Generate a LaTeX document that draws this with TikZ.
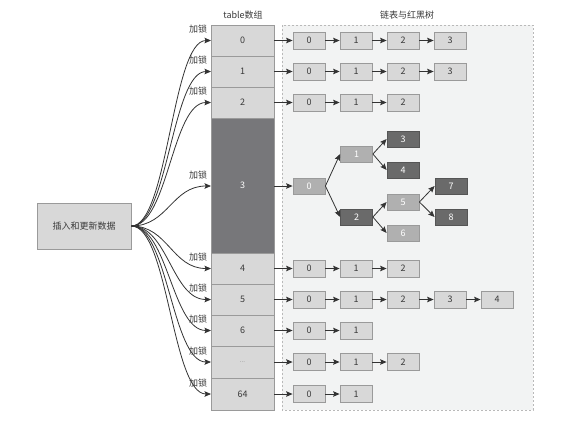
\documentclass[tikz,border=0pt]{standalone}
\usepackage{fontspec}
\setmainfont{Noto Sans CJK SC}
\usetikzlibrary{arrows.meta}
\definecolor{cellfill}{HTML}{D8D8D8}
\definecolor{celldraw}{HTML}{9A9A9A}
\definecolor{darkcell}{HTML}{77777A}
\definecolor{bgfill}{HTML}{F2F3F3}
\definecolor{lightnode}{HTML}{B0B0B0}
\definecolor{darknode}{HTML}{6A6A6A}
\definecolor{txt}{HTML}{3A3A3A}
\definecolor{arrcol}{HTML}{333333}
\tikzset{
  cell/.style={draw=celldraw, fill=cellfill, line width=0.8pt, minimum width=63pt, inner sep=0pt, text=txt},
  lnode/.style={draw=celldraw, fill=cellfill, line width=0.8pt, minimum width=32pt, minimum height=17pt, inner sep=0pt, text=txt},
  tlight/.style={draw=celldraw, fill=lightnode, line width=0.8pt, minimum width=32pt, minimum height=16pt, inner sep=0pt, text=white},
  tdark/.style={draw=darknode!80!black, fill=darknode, line width=0.8pt, minimum width=32pt, minimum height=16pt, inner sep=0pt, text=white},
  arr/.style={draw=arrcol, line width=0.8pt, -{Stealth[length=6.5pt,width=5.5pt,inset=1.2pt]}},
  lbl/.style={text=txt, inner sep=0pt},
}
\begin{document}
\begin{tikzpicture}[x=1pt,y=-1pt, font=\fontsize{9}{10}\selectfont]
\useasboundingbox (0,0) rectangle (576,421);
\fill[white] (0,0) rectangle (576,421);
\draw[dash pattern=on 2pt off 2pt, draw=gray!55, fill=bgfill, line width=0.7pt] (282,25) rectangle (533,410);

\node[lbl] (title1) at (243,15) {table数组};
\node[lbl] (title2) at (407,15) {链表与红黑树};

% table
\foreach \r/\y/\h/\t in {0/40.5/31/0, 1/71.5/31/1, 2/102.5/31/2, 4/268.5/31/4, 5/299.5/31/5, 6/330.5/31/6, 8/394/32/64} {
  \node[cell, minimum height=\h pt] (t\r) at (242.5,\y) {\t};
}
\node[cell, minimum height=32pt] (t7) at (242.5,362) {\textcolor{gray}{\fontsize{6}{7}\selectfont ...}};
\node[cell, fill=darkcell, draw=celldraw, minimum height=135pt, text=white] (t3) at (242.5,185.5) {3};

% lists
\foreach \r/\y/\n in {0/40.5/3, 1/71.5/3, 2/102.5/2, 4/268.5/2, 5/299.5/4, 6/330.5/1, 7/362/2, 8/394/1} {
  \foreach \k in {0,...,\n} {
    \node[lnode] (r\r-\k) at ({309+47*\k},\y) {\k};
  }
  \draw[arr] (t\r.east) -- (r\r-0.west);
  \foreach \k [remember=\k as \p (initially 0)] in {1,...,\n} {
    \draw[arr] (r\r-\p.east) -- (r\r-\k.west);
  }
}

% tree
\node[tlight] (a0) at (309,186) {0};
\node[tlight] (a1) at (356.5,154) {1};
\node[tdark]  (a2) at (356.5,217) {2};
\node[tdark]  (a3) at (403,139) {3};
\node[tdark]  (a4) at (403,170) {4};
\node[tlight] (a5) at (403,202) {5};
\node[tlight] (a6) at (403,233) {6};
\node[tdark]  (a7) at (451,186) {7};
\node[tdark]  (a8) at (451,217) {8};
\draw[arr] (t3.east |- a0) -- (a0.west);
\draw[arr] (a0.east) -- (a1.west);
\draw[arr] (a0.east) -- (a2.west);
\draw[arr] (a1.east) -- (a3.west);
\draw[arr] (a1.east) -- (a4.west);
\draw[arr] (a2.east) -- (a5.west);
\draw[arr] (a2.east) -- (a6.west);
\draw[arr] (a5.east) -- (a7.west);
\draw[arr] (a5.east) -- (a8.west);

% source box
\node[draw=celldraw, fill=cellfill, line width=0.8pt, minimum width=94pt, minimum height=46pt, inner sep=0pt, text=txt] (src) at (84,226) {插入和更新数据};

\foreach \r/\y in {0/40.5, 1/71.5, 2/102.5, 3/186, 4/268.5, 5/299.5, 6/330.5, 7/362, 8/394} {
  \draw[arr] (src.east) .. controls (168,226) and (172,\y) .. (211,\y);
  \node[lbl] (lk\r) at (198,\y-11) {加锁};
}
\end{tikzpicture}
\end{document}
